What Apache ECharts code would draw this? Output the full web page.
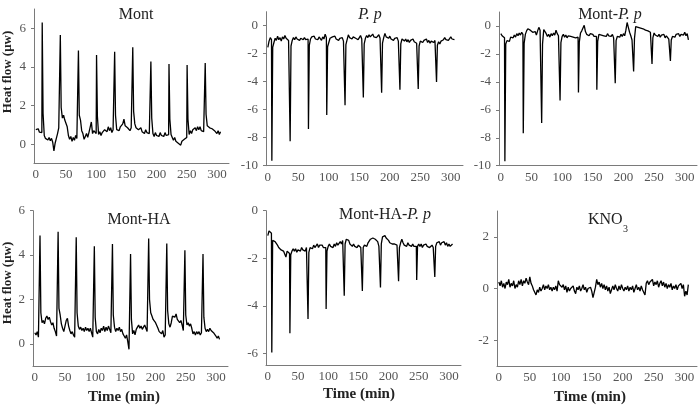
<!DOCTYPE html>
<html>
<head>
<meta charset="utf-8">
<script src="https://cdn.jsdelivr.net/npm/echarts@6/dist/echarts.min.js"></script>
<style>
  html, body { margin: 0; padding: 0; background: #fff; }
  #chart { width: 700px; height: 409px; }
</style>
</head>
<body>
<div id="chart"></div>
<script>
// sampling step of the recorded traces (min)
const step = 2;
const xTicks = [0, 50, 100, 150, 200, 250, 300];

// Mont: baseline trace + injection spikes
const montFlow = [
  0.75, 0.68, 0.80, 0.62, 0.55, 0.60, 1.60, 0.45, 0.30, 0.38, 0.22, 0.35, 0.18, 0.30, 0.10,
  -0.35, 0.05, 0.30, 0.55, 0.85, 0.95, 1.90, 1.35, 1.50, 1.25, 1.35, 0.90, 0.45, 0.25, 0.40,
  0.15, 0.35, 0.20, 0.45, 0.30, 0.40, 1.50, 1.25, 0.70, 0.55, 0.25, 0.40, 0.55, 0.35, 0.60,
  0.50, 1.15, 0.55, 0.70, 0.60, 0.55, 1.45, 0.50, 0.65, 0.45, 0.60, 0.50, 0.75, 0.85, 0.65,
  0.90, 0.70, 0.85, 0.60, 0.75, 0.70, 1.50, 0.75, 0.85, 0.70, 0.90, 0.80, 1.05, 1.30, 0.95,
  1.05, 0.85, 0.90, 0.70, 0.85, 0.80, 1.70, 1.05, 0.85, 0.95, 0.75, 0.70, 0.85, 0.65, 0.70,
  0.55, 0.75, 0.60, 0.70, 0.55, 0.60, 1.35, 0.55, 0.40, 0.60, 0.45, 0.55, 0.40, 0.60, 0.45,
  0.55, 0.40, 0.60, 0.45, 0.55, 0.50, 1.30, 0.50, 0.35, 0.20, 0.35, 0.15, 0.25, 0.05, 0.10,
  -0.05, 0.15, 0.05, 0.25, 0.30, 0.35, 1.30, 0.50, 0.70, 0.55, 0.75, 0.65, 0.85, 0.70, 0.90,
  0.75, 0.90, 0.70, 0.80, 0.65, 0.70, 1.55, 0.95, 1.05, 0.85, 0.95, 0.80, 0.90, 0.70, 0.80,
  0.55, 0.70, 0.50, 0.65
];
const montSpikeTimes = [10.6, 40.6, 70.6, 100.6, 130.6, 160.6, 190.6, 220.6, 250.6, 280.6];
const montSpikePeaks = [6.30, 5.65, 4.85, 4.62, 4.78, 5.02, 4.28, 4.15, 4.10, 4.20];

// P. p
const ppFlow = [
  -1.55, -1.10, -0.85, -1.00, -1.55, -1.20, -0.90, -1.05, -0.75, -1.00, -0.85, -1.10, -0.80, -0.95, -0.70,
  -0.90, -0.80, -1.05, -0.95, -1.45, -1.05, -0.85, -1.00, -0.80, -0.95, -0.85, -1.05, -0.90, -0.80, -1.00,
  -0.85, -1.00, -0.90, -0.95, -1.40, -0.95, -0.80, -0.90, -0.75, -0.95, -0.85, -1.00, -0.80, -0.90, -1.05,
  -0.80, -0.95, -0.60, -0.85, -1.50, -1.20, -0.90, -1.00, -0.80, -0.90, -0.75, -0.95, -0.85, -1.05, -0.90,
  -1.00, -0.85, -1.10, -1.05, -1.35, -1.00, -0.65, -0.85, -0.75, -0.95, -0.80, -0.70, -0.90, -0.80, -1.00,
  -0.85, -0.70, -0.95, -0.90, -1.30, -0.90, -0.70, -0.85, -0.65, -0.80, -0.70, -0.60, -0.80, -0.70, -0.85,
  -0.75, -0.65, -0.90, -0.85, -1.25, -0.85, -0.55, -0.80, -0.70, -0.90, -0.75, -0.95, -0.85, -1.05, -0.90,
  -1.00, -0.85, -1.10, -1.05, -1.30, -0.95, -0.90, -1.10, -0.95, -1.15, -1.00, -1.20, -1.05, -1.10, -0.95,
  -1.15, -1.05, -1.25, -1.15, -1.45, -1.10, -1.00, -1.20, -1.05, -1.15, -0.95, -1.20, -1.05, -1.25, -1.10,
  -1.00, -1.20, -1.05, -1.10, -1.40, -1.15, -1.30, -1.10, -1.20, -1.00, -0.85, -1.00, -0.90, -1.05, -0.95,
  -0.80, -0.95, -0.85, -1.00
];
const ppSpikeTimes = [6.6, 36.6, 66.6, 96.6, 126.6, 156.6, 186.6, 216.6, 246.6, 276.6];
const ppSpikePeaks = [-9.65, -8.25, -7.38, -6.38, -5.68, -5.12, -4.78, -4.58, -4.52, -4.02];

// Mont-P. p
const montPpFlow = [
  -0.55, -0.70, -0.80, -0.85, -1.30, -1.05, -0.95, -1.10, -0.80, -0.70, -0.85, -0.65, -0.80, -0.55, -0.70,
  -0.50, -0.65, -0.45, -0.60, -1.25, -0.60, -0.35, -0.20, -0.10, -0.30, -0.25, -0.45, -0.55, -0.40, -0.65,
  -0.35, -0.10, -0.30, -0.40, -1.30, -0.25, -0.35, -0.55, -0.75, -0.60, -0.80, -0.55, -0.70, -0.50, -0.65,
  -0.30, -0.55, -0.70, -0.80, -1.20, -0.75, -0.60, -0.80, -0.65, -0.85, -0.70, -0.60, -0.75, -0.65, -0.80,
  -0.70, -0.85, -0.75, -0.80, -1.15, -0.50, -0.35, -0.45, 0.05, -0.40, -0.60, -0.50, -0.70, -0.55, -0.65,
  -0.60, -0.75, -0.70, -0.75, -1.10, -0.60, -0.50, -0.65, -0.55, -0.70, -0.60, -0.75, -0.55, -0.70, -0.60,
  -0.75, -0.60, -0.85, -0.80, -1.05, -0.75, -0.65, -0.80, -0.60, -0.75, -0.55, -0.70, -0.30, 0.25, -0.10,
  -0.45, -0.70, -1.00, -1.05, -0.90, -0.05, 0.05, -0.10, 0.00, -0.15, -0.05, -0.20, -0.10, -0.30, -0.20,
  -0.35, -0.25, -0.45, -0.55, -0.85, -0.50, -0.65, -0.55, -0.75, -0.60, -0.80, -0.65, -0.75, -0.60, -0.85,
  -0.70, -0.80, -0.95, -1.00, -1.00, -0.75, -0.65, -0.80, -0.60, -0.70, -0.55, -0.75, -0.60, -0.50, -0.65,
  -0.45, -0.70, -0.55, -1.00
];
const montPpSpikeTimes = [6.6, 36.6, 66.6, 96.6, 126.6, 156.6, 186.6, 216.6, 246.6, 276.6];
const montPpSpikePeaks = [-9.68, -7.68, -6.95, -5.33, -4.76, -4.57, -4.10, -3.26, -2.72, -2.50];

// Mont-HA
const montHaFlow = [
  0.50, 0.40, 0.55, 0.30, 0.35, 1.40, 0.95, 1.05, 0.90, 1.15, 1.25, 1.10, 1.20, 1.00, 0.85,
  0.95, 0.70, 0.55, 0.35, 0.40, 1.60, 1.30, 0.90, 0.70, 0.55, 0.80, 1.05, 1.15, 0.80, 0.60,
  0.45, 0.55, 0.40, 0.30, 0.35, 1.40, 0.80, 0.65, 0.75, 0.60, 0.70, 0.55, 0.75, 0.60, 0.70,
  0.55, 0.70, 0.50, 0.30, 0.25, 1.20, 0.55, 0.45, 0.65, 0.50, 0.70, 0.60, 0.80, 0.55, 0.75,
  0.60, 0.80, 0.65, 0.50, 0.55, 1.30, 0.75, 0.55, 0.70, 0.60, 0.75, 0.55, 0.65, 0.45, 0.35,
  0.25, 0.40, 0.10, -0.25, -0.30, 1.10, 0.45, 0.60, 0.40, 0.65, 0.75, 0.85, 0.70, 0.80, 0.65,
  0.75, 0.85, 0.70, 0.55, 0.60, 2.00, 1.40, 1.25, 1.10, 1.15, 0.95, 0.90, 0.70, 0.55, 0.60,
  0.45, 0.60, 0.30, 0.40, 0.35, 1.50, 0.90, 0.75, 0.95, 1.25, 1.30, 1.20, 1.35, 1.10, 1.15,
  0.95, 1.05, 0.85, 0.60, 0.55, 1.30, 0.85, 0.95, 0.80, 0.90, 0.70, 0.45, 0.55, 0.40, 0.55,
  0.45, 0.55, 0.40, 0.50, 0.45, 1.20, 0.70, 0.55, 0.65, 0.55, 0.70, 0.60, 0.65, 0.50, 0.45,
  0.35, 0.25, 0.35, 0.20
];
const montHaSpikeTimes = [8.6, 38.6, 68.6, 98.6, 128.6, 158.6, 188.6, 218.6, 248.6, 278.6];
const montHaSpikePeaks = [4.88, 5.05, 4.80, 4.40, 4.50, 4.05, 4.75, 4.52, 4.22, 4.05];

// Mont-HA-P. p
const montHaPpFlow = [
  -1.05, -0.85, -0.80, -0.95, -1.25, -1.20, -1.30, -1.25, -1.45, -1.55, -1.50, -1.65, -1.60, -1.70, -1.65,
  -1.95, -1.70, -1.75, -1.80, -1.85, -1.70, -1.60, -1.70, -1.60, -1.75, -1.65, -1.60, -1.70, -1.55, -1.65,
  -1.60, -1.70, -1.55, -1.60, -1.75, -1.55, -1.50, -1.60, -1.45, -1.55, -1.50, -1.40, -1.55, -1.45, -1.50,
  -1.45, -1.55, -1.50, -1.55, -1.70, -1.50, -1.40, -1.50, -1.45, -1.55, -1.40, -1.50, -1.35, -1.45, -1.40,
  -1.30, -1.40, -1.25, -1.30, -1.40, -1.20, -1.15, -1.25, -1.40, -1.45, -1.50, -1.40, -1.50, -1.45, -1.55,
  -1.45, -1.50, -1.55, -1.60, -1.55, -1.45, -1.40, -1.50, -1.35, -1.30, -1.20, -1.25, -1.15, -1.10, -1.20,
  -1.25, -1.30, -1.50, -1.55, -1.40, -1.10, -1.15, -1.05, -1.15, -1.20, -1.25, -1.35, -1.30, -1.40, -1.35,
  -1.40, -1.35, -1.45, -1.50, -1.55, -1.35, -1.20, -1.35, -1.45, -1.40, -1.50, -1.35, -1.45, -1.40, -1.50,
  -1.40, -1.50, -1.45, -1.50, -1.50, -1.40, -1.50, -1.40, -1.55, -1.45, -1.50, -1.40, -1.50, -1.45, -1.55,
  -1.50, -1.45, -1.55, -1.55, -1.50, -1.35, -1.40, -1.30, -1.45, -1.35, -1.40, -1.30, -1.45, -1.35, -1.50,
  -1.40, -1.50, -1.55, -1.40
];
const montHaPpSpikeTimes = [6.6, 36.6, 66.6, 96.6, 126.6, 156.6, 186.6, 216.6, 246.6, 276.6];
const montHaPpSpikePeaks = [-5.97, -5.16, -4.56, -4.14, -3.58, -3.38, -3.23, -2.97, -2.92, -2.79];

// KNO3 (no spikes)
const kno3Flow = [
  0.25, 0.10, 0.30, 0.05, 0.20, 0.00, 0.25, 0.15, 0.35, 0.05, 0.20, 0.10, 0.30, 0.00, 0.15,
  0.05, 0.30, 0.15, 0.35, 0.10, 0.30, 0.20, 0.40, 0.25, 0.15, 0.45, 0.20, 0.10, -0.05, -0.10,
  -0.25, -0.05, -0.15, 0.05, -0.10, 0.00, 0.15, -0.05, 0.10, 0.00, 0.15, -0.05, 0.05, -0.10, 0.05,
  -0.05, 0.10, -0.10, 0.30, 0.15, 0.20, 0.05, 0.15, -0.05, 0.10, -0.15, 0.05, -0.10, 0.00, -0.05,
  0.10, -0.10, -0.20, 0.05, -0.05, 0.10, -0.10, 0.00, 0.15, -0.05, 0.05, -0.15, 0.00, -0.05, 0.05,
  -0.10, -0.35, -0.15, 0.05, 0.35, 0.15, 0.25, 0.05, 0.20, 0.00, 0.15, -0.05, 0.10, -0.10, 0.05,
  -0.20, -0.05, 0.10, -0.05, 0.15, 0.00, -0.10, 0.10, -0.05, 0.15, 0.00, -0.10, 0.05, -0.05, 0.10,
  -0.10, 0.05, -0.05, 0.10, -0.15, 0.00, 0.15, -0.05, 0.05, -0.10, 0.10, -0.05, 0.00, -0.25, 0.20,
  0.30, 0.15, 0.25, 0.20, 0.35, 0.10, 0.25, 0.15, 0.30, 0.05, 0.20, 0.30, 0.10, 0.25, 0.05,
  0.20, 0.00, 0.15, 0.05, 0.20, -0.05, 0.10, 0.00, 0.15, -0.05, 0.10, 0.05, 0.20, 0.00, 0.15,
  -0.30, -0.10, -0.25, 0.15
];

// panels: position of each plot box (px), y range and y tick labels
const panels = [
  { flow: montFlow, spikeT: montSpikeTimes, spikeV: montSpikePeaks,
    left: 34, top: 9, width: 195, height: 154.5, yMin: -1, yMax: 7, yTicks: [0, 2, 4, 6] },
  { flow: ppFlow, spikeT: ppSpikeTimes, spikeV: ppSpikePeaks,
    left: 266, top: 11.7, width: 197, height: 154, yMin: -10, yMax: 1, yTicks: [-10, -8, -6, -4, -2, 0] },
  { flow: montPpFlow, spikeT: montPpSpikeTimes, spikeV: montPpSpikePeaks,
    left: 499, top: 12, width: 198, height: 153.7, yMin: -10, yMax: 1, yTicks: [-10, -8, -6, -4, -2, 0] },
  { flow: montHaFlow, spikeT: montHaSpikeTimes, spikeV: montHaSpikePeaks,
    left: 33, top: 210.7, width: 195, height: 155.3, yMin: -1, yMax: 6, yTicks: [0, 2, 4, 6] },
  { flow: montHaPpFlow, spikeT: montHaPpSpikeTimes, spikeV: montHaPpSpikePeaks,
    left: 266, top: 210.7, width: 195, height: 154.5, yMin: -6.5, yMax: 0, yTicks: [-6, -4, -2, 0] },
  { flow: kno3Flow, spikeT: [], spikeV: [],
    left: 497, top: 211, width: 200, height: 155, yMin: -3, yMax: 3, yTicks: [-2, 0, 2] }
];

const serif = '"Liberation Serif", "DejaVu Serif", serif';
const axisGray = '#7a7a7a';
const labelGray = '#555';

// baseline samples + spike peaks, merged in time order
function toPoints(p) {
  const pts = p.flow.map((v, i) => [i * step, v]);
  p.spikeT.forEach((t, k) => pts.push([t, p.spikeV[k]]));
  return pts.sort((a, b) => a[0] - b[0]);
}

const grids = [], xAxes = [], yAxes = [], series = [];
panels.forEach((p, i) => {
  grids.push({ left: p.left, top: p.top, width: p.width, height: p.height });
  xAxes.push({
    type: 'value', gridIndex: i, min: -3, max: 320,
    splitLine: { show: false },
    axisLine: { onZero: false, lineStyle: { color: axisGray, width: 1 } },
    axisTick: { show: false },
    axisLabel: { customValues: xTicks, color: labelGray, fontFamily: serif, fontSize: 13, margin: 5 }
  });
  yAxes.push({
    type: 'value', gridIndex: i, min: p.yMin, max: p.yMax,
    splitLine: { show: false },
    axisLine: { show: true, onZero: false, lineStyle: { color: axisGray, width: 1 } },
    axisTick: { show: true, customValues: p.yTicks, length: 3, lineStyle: { color: axisGray } },
    axisLabel: { customValues: p.yTicks, color: labelGray, fontFamily: serif, fontSize: 13, margin: 8 }
  });
  series.push({
    type: 'line', xAxisIndex: i, yAxisIndex: i,
    data: toPoints(p),
    showSymbol: false,
    lineStyle: { color: '#000', width: 1.3 }
  });
});

function label(x, y, text, font) {
  return {
    type: 'text', x: x, y: y,
    style: { text: text, fill: '#222', font: font || ('16px ' + serif), align: 'center', verticalAlign: 'middle' }
  };
}
function vLabel(x, y, text) {
  const g = label(x, y, text, 'bold 13px ' + serif);
  g.rotation = Math.PI / 2;
  return g;
}

const italic = { i: { fontStyle: 'italic', fontSize: 16, fontFamily: serif, fill: '#222' } };

const graphics = [
  label(136, 15, 'Mont'),
  label(370, 15, 'P. p', 'italic 16px ' + serif),
  { type: 'text', x: 610, y: 15, style: { text: 'Mont-{i|P. p}', rich: italic, fill: '#222', fontSize: 16, fontFamily: serif, align: 'center', verticalAlign: 'middle' } },
  label(139, 220, 'Mont-HA'),
  { type: 'text', x: 385, y: 215, style: { text: 'Mont-HA-{i|P. p}', rich: italic, fill: '#222', fontSize: 16, fontFamily: serif, align: 'center', verticalAlign: 'middle' } },
  { type: 'text', x: 588, y: 220, style: { text: 'KNO', fill: '#222', font: '16px ' + serif, align: 'left', verticalAlign: 'middle' } },
  { type: 'text', x: 623, y: 229, style: { text: '3', fill: '#222', font: '10px ' + serif, align: 'left', verticalAlign: 'middle' } },
  vLabel(8, 72, 'Heat flow (μw)'),
  vLabel(8, 283, 'Heat flow (μw)'),
  label(124, 397, 'Time (min)', 'bold 15px ' + serif),
  label(359, 394, 'Time (min)', 'bold 15px ' + serif),
  label(590, 397, 'Time (min)', 'bold 15px ' + serif)
];

const chart = echarts.init(document.getElementById('chart'));
chart.setOption({
  animation: false,
  backgroundColor: '#fff',
  grid: grids,
  xAxis: xAxes,
  yAxis: yAxes,
  series: series,
  graphic: graphics
});
</script>
</body>
</html>
